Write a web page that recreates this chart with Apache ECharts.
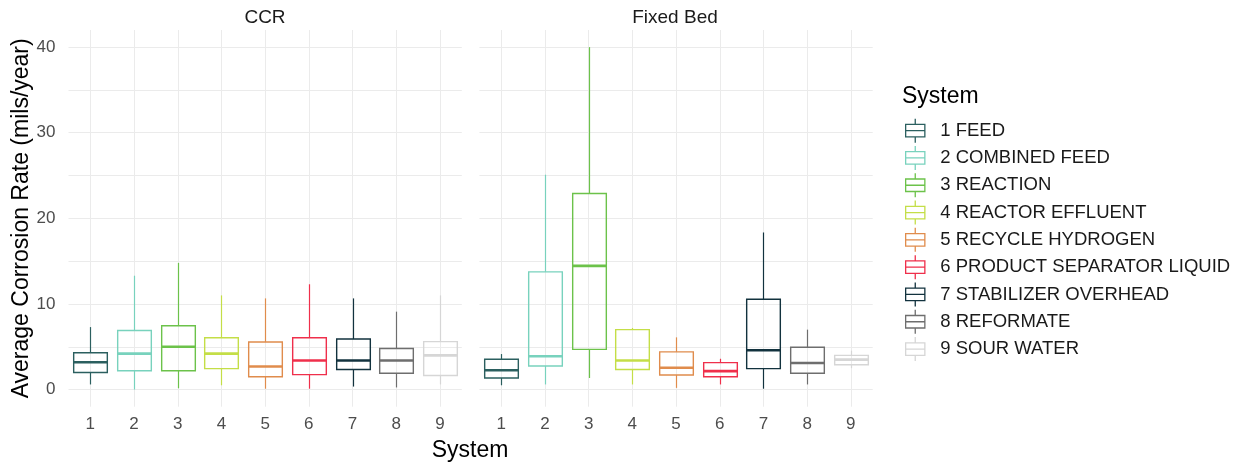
<!DOCTYPE html>
<html>
<head>
<meta charset="utf-8">
<script src="https://cdn.jsdelivr.net/npm/echarts@6/dist/echarts.min.js"></script>
<style>
  html, body { margin: 0; padding: 0; background: #fff; }
  #chart { width: 1241px; height: 464px; }
</style>
</head>
<body>
<div id="chart"></div>
<script>
// categories on the x axis and the legend names
var categories = ['1', '2', '3', '4', '5', '6', '7', '8', '9'];
var systems = [
  '1 FEED', '2 COMBINED FEED', '3 REACTION', '4 REACTOR EFFLUENT',
  '5 RECYCLE HYDROGEN', '6 PRODUCT SEPARATOR LIQUID', '7 STABILIZER OVERHEAD',
  '8 REFORMATE', '9 SOUR WATER'
];
// [lower whisker, Q1, median, Q3, upper whisker] per system
var ccrBoxes = [
  [0.6, 2.0, 3.2, 4.3, 7.3],
  [0.0, 2.2, 4.2, 6.9, 13.3],
  [0.15, 2.2, 5.0, 7.45, 14.8],
  [0.5, 2.45, 4.2, 6.05, 11.0],
  [0.1, 1.5, 2.7, 5.55, 10.65],
  [0.1, 1.75, 3.4, 6.05, 12.3],
  [0.35, 2.35, 3.4, 5.9, 10.65],
  [0.25, 1.9, 3.4, 4.8, 9.1],
  [0.6, 1.65, 4.0, 5.6, 11.0]
];
var fixedBedBoxes = [
  [0.5, 1.35, 2.25, 3.55, 4.15],
  [0.6, 2.75, 3.9, 13.75, 25.1],
  [1.35, 4.7, 14.45, 22.9, 40.0],
  [0.6, 2.35, 3.4, 7.0, 7.2],
  [0.2, 1.7, 2.55, 4.4, 6.1],
  [0.6, 1.5, 2.15, 3.15, 3.6],
  [0.1, 2.45, 4.6, 10.55, 18.35],
  [0.6, 1.9, 3.1, 4.95, 7.0],
  [2.5, 2.9, 3.5, 4.0, 4.55]
];
var colors = ['#2b5f5f', '#78d2bd', '#6cc24a', '#c4de47', '#e08c4c', '#ef2f4b', '#12323e', '#6e6e6e', '#d6d6d6'];

var FONT = '"Liberation Sans", Arial, sans-serif';
var chart = echarts.init(document.getElementById('chart'));

function renderBox(params, api) {
  var x = api.value(0);
  var lo = api.coord([x, api.value(1)]);
  var q1 = api.coord([x, api.value(2)]);
  var md = api.coord([x, api.value(3)]);
  var q3 = api.coord([x, api.value(4)]);
  var hi = api.coord([x, api.value(5)]);
  var w = api.size([1, 0])[0] * 0.77;
  var c = api.visual('color');
  var cx = Math.round(lo[0]) + 0.5;
  return {
    type: 'group',
    children: [
      { type: 'line', shape: { x1: cx, y1: hi[1], x2: cx, y2: q3[1] }, style: { stroke: c, lineWidth: 1.2 } },
      { type: 'line', shape: { x1: cx, y1: q1[1], x2: cx, y2: lo[1] }, style: { stroke: c, lineWidth: 1.2 } },
      { type: 'rect', shape: { x: cx - w / 2, y: q3[1], width: w, height: q1[1] - q3[1] },
        style: { fill: 'none', stroke: c, lineWidth: 1.4 } },
      { type: 'line', shape: { x1: cx - w / 2, y1: md[1], x2: cx + w / 2, y2: md[1] },
        style: { stroke: c, lineWidth: 2.6 } }
    ]
  };
}

var series = [];
[ccrBoxes, fixedBedBoxes].forEach(function (boxes, panel) {
  boxes.forEach(function (b, i) {
    series.push({
      name: systems[i],
      type: 'custom',
      xAxisIndex: panel,
      yAxisIndex: panel,
      renderItem: renderBox,
      itemStyle: { color: colors[i] },
      encode: { x: 0, y: [1, 2, 3, 4, 5] },
      data: [[i].concat(b)]
    });
  });
});

var boxIcon = 'path://M10,0V6M0,6H20V19H0ZM0,12.5H20M10,19V25';

function yAxisFor(panel) {
  return {
    type: 'value',
    gridIndex: panel,
    min: -2,
    max: 42,
    splitNumber: 9,
    name: panel === 0 ? 'Average Corrosion Rate (mils/year)' : '',
    nameLocation: 'middle',
    nameGap: 30,
    nameTextStyle: { fontFamily: FONT, fontSize: 23, color: '#000' },
    axisLine: { show: false },
    axisTick: { show: false },
    axisLabel: {
      show: panel === 0,
      margin: 13,
      fontFamily: FONT,
      fontSize: 17,
      color: '#4d4d4d',
      formatter: function (v) { return v % 10 === 0 ? String(v) : ''; }
    },
    splitLine: { show: true, showMinLine: false, showMaxLine: false, lineStyle: { color: '#ebebeb', width: 1 } }
  };
}

function xAxisFor(panel) {
  return {
    type: 'category',
    gridIndex: panel,
    data: categories,
    boundaryGap: true,
    axisLine: { show: false },
    axisTick: { show: false },
    axisLabel: { margin: 9, fontFamily: FONT, fontSize: 17, color: '#4d4d4d' },
    splitLine: { show: true, alignWithLabel: true, lineStyle: { color: '#ebebeb', width: 1 } }
  };
}

var facetText = { fontFamily: FONT, fontSize: 19, fontWeight: 'normal', color: '#1a1a1a' };
var axisTitleText = { fontFamily: FONT, fontSize: 23, fontWeight: 'normal', color: '#000' };

chart.setOption({
  backgroundColor: '#fff',
  animation: false,
  title: [
    { text: 'CCR', left: 265, top: 8, padding: 0, textAlign: 'center', textStyle: facetText },
    { text: 'Fixed Bed', left: 675, top: 8, padding: 0, textAlign: 'center', textStyle: facetText },
    { text: 'System', left: 470, top: 439, padding: 0, textAlign: 'center', textStyle: axisTitleText },
    { text: 'System', left: 902, top: 85, padding: 0, textStyle: axisTitleText }
  ],
  legend: {
    orient: 'vertical',
    left: 905,
    top: 118,
    padding: 0,
    itemWidth: 20,
    itemHeight: 24,
    itemGap: 2,
    selectedMode: false,
    textStyle: { fontFamily: FONT, fontSize: 18.5, color: '#1a1a1a', padding: [0, 0, 0, 10] },
    data: systems.map(function (s, i) {
      return { name: s, icon: boxIcon, itemStyle: { color: '#fff', borderColor: colors[i], borderWidth: 1.3 } };
    })
  },
  grid: [
    { left: 68.5, width: 393.3, top: 30, bottom: 57.3 },
    { left: 479.4, width: 393.3, top: 30, bottom: 57.3 }
  ],
  xAxis: [xAxisFor(0), xAxisFor(1)],
  yAxis: [yAxisFor(0), yAxisFor(1)],
  series: series
});
</script>
</body>
</html>
